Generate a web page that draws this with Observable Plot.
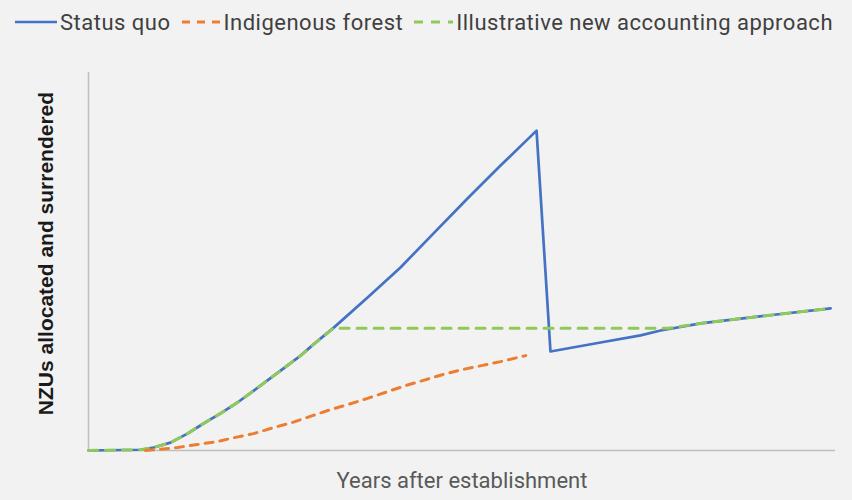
<!DOCTYPE html>
<html>
<head>
<meta charset="utf-8">
<script src="https://cdn.jsdelivr.net/npm/d3@7"></script>
<script src="https://cdn.jsdelivr.net/npm/@observablehq/plot@0.6"></script>
<style>
  html, body { margin: 0; padding: 0; background: #f2f2f2; }
  body { width: 852px; height: 500px; overflow: hidden; font-family: Roboto, "Noto Sans", sans-serif; }
  #legend { box-sizing: border-box; height: 40px; padding-top: 4px; display: flex; align-items: center; padding-left: 15px; font-size: 22px; letter-spacing: 0.5px; color: #404040; white-space: nowrap; }
  .item { display: flex; align-items: center; margin-right: 8px; }
  .item svg { margin-right: 3px; }
</style>
</head>
<body>
<div id="legend"></div>
<div id="chart"></div>
<script>
// Years after establishment (x) and NZU index values (y)
const statusYears = [0, 3.51, 4.39, 5.53, 6.68, 7.76, 8.91, 10.05, 11.13, 12.28, 12.96, 14.31, 15.18, 16.53, 18.83, 21.05, 23.28, 25.57, 27.80, 30.23, 31.17, 34.55, 37.25, 38.60, 41.30, 45.82, 50.07];
const statusValues = [0, 0.2, 0.8, 2.1, 4.5, 7.2, 9.9, 12.8, 15.9, 19.3, 21.3, 25.3, 28.3, 32.7, 40.8, 48.8, 57.9, 67.2, 76.0, 85.3, 26.4, 28.8, 30.7, 32.0, 33.9, 36.0, 37.9];

const indigenousYears = [3.85, 4.66, 6.01, 7.35, 8.70, 9.92, 11.13, 12.48, 13.77, 15.11, 16.33, 17.54, 18.83, 20.18, 21.39, 22.60, 23.95, 25.24, 26.59, 27.80, 29.5];
const indigenousValues = [0, 0.27, 0.8, 1.6, 2.4, 3.5, 4.5, 6.1, 7.5, 9.3, 10.9, 12.3, 13.9, 15.7, 17.3, 18.7, 20.3, 21.6, 22.7, 23.7, 25.3];

const newApproachYears = [0, 3.51, 4.39, 5.53, 6.68, 7.76, 8.91, 10.05, 11.13, 12.28, 12.96, 14.31, 15.18, 16.53, 39.1, 41.30, 45.82, 50.07];
const newApproachValues = [0, 0.2, 0.8, 2.1, 4.5, 7.2, 9.9, 12.8, 15.9, 19.3, 21.3, 25.3, 28.3, 32.6, 32.6, 33.9, 36.0, 37.9];

const seriesNames = ["Status quo", "Indigenous forest", "Illustrative new accounting approach"];
const seriesColors = ["#4472c4", "#ed7d31", "#8fc95a"];
const seriesDash = [null, "8,7", "9,8"];

const xLabel = "Years after establishment";
const yLabel = "NZUs allocated and surrendered";

const toRows = (xs, ys) => xs.map((x, i) => ({x, y: ys[i]}));
const status = toRows(statusYears, statusValues);
const indigenous = toRows(indigenousYears, indigenousValues);
const newApproach = toRows(newApproachYears, newApproachValues);

// Legend
const legend = document.getElementById("legend");
seriesNames.forEach((name, i) => {
  const item = document.createElement("div");
  item.className = "item";
  const dash = seriesDash[i] ? `stroke-dasharray="${seriesDash[i]}"` : "";
  item.innerHTML = `<svg width="42" height="10"><line x1="${seriesDash[i] ? 3 : 0}" y1="5" x2="42" y2="5" stroke="${seriesColors[i]}" stroke-width="${seriesDash[i] ? 3 : 2.5}" ${dash}/></svg><span>${name}</span>`;
  legend.appendChild(item);
});

const chart = Plot.plot({
  width: 852,
  height: 460,
  marginLeft: 88,
  marginRight: 17,
  marginTop: 32,
  marginBottom: 50,
  style: {background: "#f2f2f2", fontFamily: "Roboto, sans-serif"},
  x: {domain: [0, 50.4], axis: null},
  y: {domain: [0, 100.8], axis: null},
  marks: [
    Plot.ruleY([0], {stroke: "#bfbfbf", strokeWidth: 1.5}),
    Plot.ruleX([0], {stroke: "#bfbfbf", strokeWidth: 1.5}),
    Plot.line(status, {x: "x", y: "y", stroke: seriesColors[0], strokeWidth: 2.7}),
    Plot.line(newApproach, {x: "x", y: "y", stroke: seriesColors[2], strokeWidth: 3, strokeDasharray: seriesDash[2]}),
    Plot.line(indigenous, {x: "x", y: "y", stroke: seriesColors[1], strokeWidth: 3, strokeDasharray: seriesDash[1]}),
    Plot.text([xLabel], {frameAnchor: "bottom", dy: 30, lineAnchor: "middle", textAnchor: "middle", text: d => d, fontSize: 22, fill: "#595959", style: "letter-spacing: 0.6px"}),
    Plot.text([yLabel], {frameAnchor: "left", dx: -42, dy: -8, rotate: -90, lineAnchor: "middle", textAnchor: "middle", text: d => d, fontSize: 21, fontWeight: "bold", fill: "#1a1a1a", fontFamily: "Liberation Sans, Arial, sans-serif", style: "letter-spacing: 0.4px"})
  ]
});
document.getElementById("chart").appendChild(chart);
</script>
</body>
</html>
